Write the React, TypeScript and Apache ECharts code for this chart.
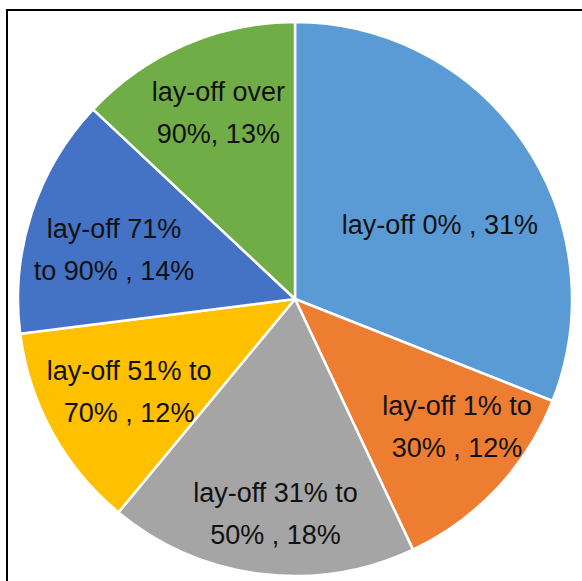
import React, { useEffect, useRef } from "react";
import * as echarts from "echarts";

const CATEGORIES = [
  "lay-off 0%",
  "lay-off 1% to 30%",
  "lay-off 31% to 50%",
  "lay-off 51% to 70%",
  "lay-off 71% to 90%",
  "lay-off over 90%",
];
const VALUES = [31, 12, 18, 12, 14, 13];
const LABEL_TEXTS = [
  "lay-off 0% , 31%",
  "lay-off 1% to\n30% , 12%",
  "lay-off 31% to\n50% , 18%",
  "lay-off 51% to\n70% , 12%",
  "lay-off 71%\nto 90% , 14%",
  "lay-off over\n90%, 13%",
];
const COLORS = ["#5B9BD5", "#ED7D31", "#A5A5A5", "#FFC000", "#4472C4", "#70AD47"];
// small label nudges (style only)
const LABEL_NUDGE: [number, number][] = [
  [-23, 40],
  [14, -11],
  [6, 14],
  [12, -5],
  [12, 14],
  [4, 0],
];

export default function App() {
  const ref = useRef<HTMLDivElement>(null);
  useEffect(() => {
    if (!ref.current) return;
    const chart = echarts.init(ref.current, null, { renderer: "svg" });
    const center = [295, 299];
    const R = 277;
    chart.setOption({
      animation: false,
      backgroundColor: "#ffffff",
      graphic: [
        {
          type: "rect",
          shape: { x: 7, y: 10, width: 620, height: 620 },
          style: { fill: "none", stroke: "#000", lineWidth: 2 },
          z: 100,
        },
      ],
      series: [
        {
          type: "pie",
          center,
          radius: [0, R],
          startAngle: 90,
          clockwise: true,
          silent: true,
          label: { show: false },
          labelLine: { show: false },
          itemStyle: { borderColor: "#ffffff", borderWidth: 2.5 },
          data: CATEGORIES.map((name, i) => ({
            name,
            value: VALUES[i],
            itemStyle: { color: COLORS[i] },
          })),
        },
        {
          type: "pie",
          center,
          radius: [123, R],
          startAngle: 90,
          clockwise: true,
          silent: true,
          itemStyle: { color: "rgba(0,0,0,0)", borderWidth: 0 },
          labelLine: { show: false },
          label: {
            show: true,
            position: "inside",
            fontFamily: "'Liberation Sans', Arial, sans-serif",
            fontSize: 27,
            lineHeight: 42,
            color: "#111111",
            align: "center",
          },
          data: CATEGORIES.map((name, i) => ({
            name,
            value: VALUES[i],
            label: { formatter: LABEL_TEXTS[i], offset: LABEL_NUDGE[i] },
          })),
        },
      ],
    });
    return () => chart.dispose();
  }, []);
  return (
    <div
      ref={ref}
      style={{ position: "fixed", left: 0, top: 0, width: 582, height: 581 }}
    />
  );
}
